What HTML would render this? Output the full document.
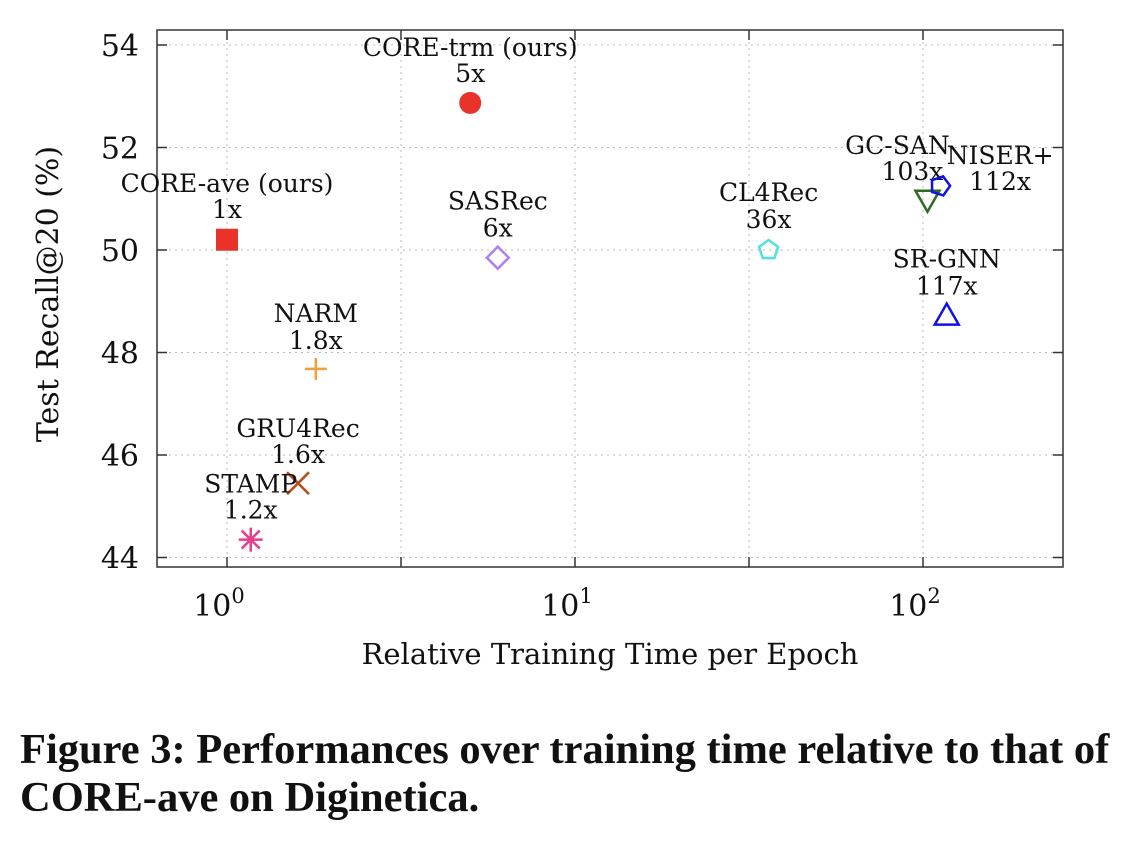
<!DOCTYPE html>
<html><head><meta charset="utf-8"><style>
body{margin:0;background:#fff;width:1134px;height:846px;overflow:hidden}
svg text{font-family:"DejaVu Serif","Liberation Serif",serif;fill:#111}
.cap{position:absolute;left:20px;top:726px;font-family:"Liberation Serif",serif;font-weight:bold;font-size:42.5px;line-height:48px;color:#111;white-space:nowrap}
</style></head><body>
<svg id="chart" width="1134" height="846" style="position:absolute;left:0;top:0"></svg>
<div class="cap">Figure 3: Performances over training time relative to that of<br>CORE-ave on Diginetica.</div>
<script>
const models=["CORE-ave (ours)","CORE-trm  (ours)","SASRec","NARM","GRU4Rec","STAMP","CL4Rec","GC-SAN","NISER+","SR-GNN"];
const times=[1,5,6,1.8,1.6,1.17,36,103,112,117];
const recalls=[50.2,52.87,49.85,47.68,45.45,44.35,50.0,50.98,51.25,48.72];
const timeLabels=["1x","5x","6x","1.8x","1.6x","1.2x","36x","103x","112x","117x"];
const yTicks=[44,46,48,50,52,54];
const xTickExps=[0,1,2];
const NS="http://www.w3.org/2000/svg";
const svg=document.getElementById('chart');
const L=157,R=1063,T=30,B=567;
const X=v=>227+Math.log10(v)*348;
const Y=v=>250-(v-50)*51.25;
function el(t,a,p){const e=document.createElementNS(NS,t);for(const k in a)e.setAttribute(k,a[k]);(p||svg).appendChild(e);return e;}
for(const t of yTicks){
 const g=el('line',{x1:L,x2:R,y1:Y(t),y2:Y(t),stroke:'#bbb','stroke-dasharray':'2,4','stroke-width':1});
 
 
 el('line',{x1:L,x2:L+10,y1:Y(t),y2:Y(t),stroke:'#333','stroke-width':1.5});
 el('line',{x1:R,x2:R-10,y1:Y(t),y2:Y(t),stroke:'#333','stroke-width':1.5});
 const tx=el('text',{x:L-18,y:Y(t)+11,'text-anchor':'end','font-size':30});
 tx.textContent=t;
 
 
}
for(let e=0;e<=2;e+=0.5){
 const x=X(Math.pow(10,e));
 const g=el('line',{x1:x,x2:x,y1:T,y2:B,stroke:'#bbb','stroke-dasharray':'2,4','stroke-width':1});
 
 
 el('line',{x1:x,x2:x,y1:B,y2:B-10,stroke:'#333','stroke-width':1.5});
 el('line',{x1:x,x2:x,y1:T,y2:T+10,stroke:'#333','stroke-width':1.5});
}
for(const e of xTickExps){
 const tx=el('text',{x:X(Math.pow(10,e))-8,y:616,'text-anchor':'middle','font-size':30});
 tx.textContent='10';
 const s=el('tspan',{dy:-13,'font-size':21},tx);s.textContent=e;
 
 
}
const fr=el('rect',{x:L,y:T,width:R-L,height:B-T,fill:'none',stroke:'#333','stroke-width':1.5});


const xt=el('text',{x:610,y:664,'text-anchor':'middle','font-size':29});xt.textContent='Relative Training Time per Epoch';


const yt=el('text',{x:0,y:0,'text-anchor':'middle','font-size':30,transform:'translate(58,294) rotate(-90)'});yt.textContent='Test Recall@20 (%)';


const colors=['#e8322a','#e8322a','#b07fef','#f0a040','#b5501e','#e83c8c','#55e0e0','#2e6a1f','#1010e8','#1010e8'];
const labelOff=[[0,-22,-48],[0,-21,-47],[0,-21,-48],[0,-20,-47],[0,-20,-46],[0,-21,-47],[0,-22,-49],[0,-20,-46],[60,4,-22],[0,-21,-48]];
const labelDx=[0,0,0,0,0,0,0,-30,0,0];
function marker(i,x,y){
 const c=colors[i];let m;
 const sw=2.5;
 switch(i){
 case 0:m=el('rect',{x:x-11,y:y-11,width:22,height:22,fill:c});break;
 case 1:m=el('circle',{cx:x,cy:y,r:11,fill:c});break;
 case 2:m=el('polygon',{points:`${x},${y-11} ${x+11},${y} ${x},${y+11} ${x-11},${y}`,fill:'none',stroke:c,'stroke-width':sw});break;
 case 3:m=el('path',{d:`M${x-11},${y}H${x+11}M${x},${y-11}V${y+11}`,stroke:c,'stroke-width':sw});break;
 case 4:m=el('path',{d:`M${x-11},${y-11}L${x+11},${y+11}M${x+11},${y-11}L${x-11},${y+11}`,stroke:c,'stroke-width':sw});break;
 case 5:m=el('path',{d:`M${x-12},${y}H${x+12}M${x},${y-12}V${y+12}M${x-9},${y-9}L${x+9},${y+9}M${x+9},${y-9}L${x-9},${y+9}`,stroke:c,'stroke-width':sw});break;
 case 6:case 8:{let p=[];const rot=i==8?0.3:0;for(let k=0;k<5;k++){const a=-Math.PI/2+rot+k*2*Math.PI/5;p.push((x+10*Math.cos(a)).toFixed(1)+','+(y+10*Math.sin(a)).toFixed(1));}
  m=el('polygon',{points:p.join(' '),fill:'none',stroke:c,'stroke-width':sw});break;}
 case 7:m=el('polygon',{points:`${x-12},${y-9} ${x+12},${y-9} ${x},${y+12}`,fill:'none',stroke:c,'stroke-width':sw});break;
 case 9:m=el('polygon',{points:`${x},${y-12} ${x+12},${y+9} ${x-12},${y+9}`,fill:'none',stroke:c,'stroke-width':sw});break;
 }
 return m;
}
for(let i=0;i<models.length;i++){
 const x=X(times[i]),y=Y(recalls[i]);
 const m=marker(i,x,y);
 
 
 const o=labelOff[i];
 const t1=el('text',{x:x+o[0]+labelDx[i],y:y+o[2],'text-anchor':'middle','font-size':25});t1.textContent=models[i];
 
 
 const t2=el('text',{x:x+o[0]+labelDx[i]*0.5,y:y+o[1],'text-anchor':'middle','font-size':25});t2.textContent=timeLabels[i];
 
 
}
</script>
</body></html>
